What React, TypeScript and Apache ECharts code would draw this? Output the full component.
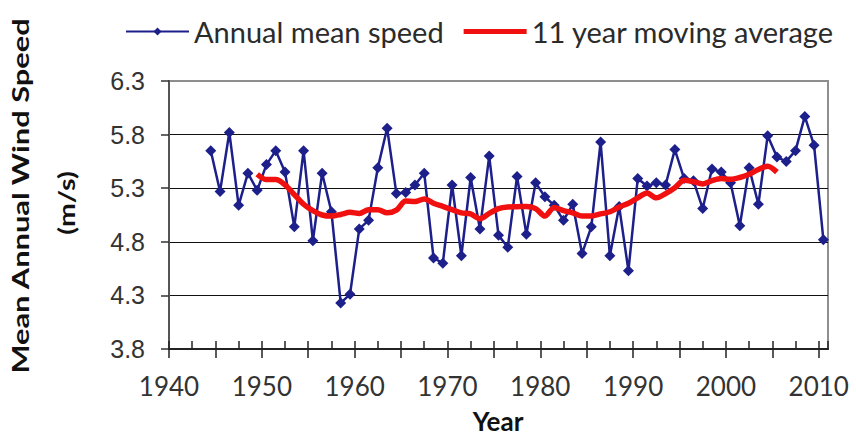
import React, { useEffect, useRef } from "react";
import * as echarts from "echarts";

// Years of the annual series
const years: number[] = [
  1944, 1945, 1946, 1947, 1948, 1949, 1950, 1951, 1952, 1953, 1954, 1955, 1956, 1957,
  1958, 1959, 1960, 1961, 1962, 1963, 1964, 1965, 1966, 1967, 1968, 1969, 1970, 1971,
  1972, 1973, 1974, 1975, 1976, 1977, 1978, 1979, 1980, 1981, 1982, 1983, 1984, 1985,
  1986, 1987, 1988, 1989, 1990, 1991, 1992, 1993, 1994, 1995, 1996, 1997, 1998, 1999,
  2000, 2001, 2002, 2003, 2004, 2005, 2006, 2007, 2008, 2009, 2010,
];

// Annual mean wind speed (m/s)
const annualSpeed: number[] = [
  5.65, 5.27, 5.82, 5.14, 5.44, 5.28, 5.52, 5.65, 5.45, 4.94, 5.65, 4.81, 5.44, 5.08,
  4.23, 4.31, 4.92, 5.0, 5.49, 5.86, 5.25, 5.26, 5.33, 5.44, 4.65, 4.6, 5.33, 4.67,
  5.4, 4.92, 5.6, 4.86, 4.75, 5.41, 4.87, 5.35, 5.22, 5.14, 5.0, 5.15, 4.69, 4.94,
  5.73, 4.67, 5.13, 4.53, 5.39, 5.32, 5.35, 5.33, 5.66, 5.39, 5.37, 5.11, 5.48, 5.45,
  5.35, 4.95, 5.49, 5.15, 5.79, 5.59, 5.55, 5.65, 5.97, 5.7, 4.82,
];

// 11 year moving average, centred years 1949..2005
const maYears: number[] = [
  1949, 1950, 1951, 1952, 1953, 1954, 1955, 1956, 1957, 1958, 1959, 1960, 1961, 1962,
  1963, 1964, 1965, 1966, 1967, 1968, 1969, 1970, 1971, 1972, 1973, 1974, 1975, 1976,
  1977, 1978, 1979, 1980, 1981, 1982, 1983, 1984, 1985, 1986, 1987, 1988, 1989, 1990,
  1991, 1992, 1993, 1994, 1995, 1996, 1997, 1998, 1999, 2000, 2001, 2002, 2003, 2004,
  2005,
];
const movingAverage: number[] = [
  5.43, 5.38, 5.38, 5.33, 5.24, 5.15, 5.09, 5.05, 5.04, 5.055, 5.075, 5.065, 5.1, 5.1,
  5.07, 5.095, 5.18, 5.175, 5.2, 5.16, 5.13, 5.1, 5.07, 5.06, 5.015, 5.065, 5.11, 5.125,
  5.127, 5.13, 5.11, 5.04, 5.12, 5.09, 5.07, 5.04, 5.04, 5.06, 5.08, 5.125, 5.16, 5.21,
  5.255, 5.21, 5.25, 5.305, 5.375, 5.36, 5.34, 5.37, 5.39, 5.383, 5.4, 5.43, 5.475, 5.505,
  5.45,
];

// Axis definitions
const yMin = 3.8;
const yMax = 6.3;
const yStep = 0.5;
const xMin = 1940;
const xMax = 2011;
const xLabelStep = 10;

const LABEL_FONT = "Lato, 'Noto Sans', sans-serif";

export default function App() {
  const ref = useRef<HTMLDivElement>(null);

  useEffect(() => {
    if (!ref.current) return;
    const chart = echarts.init(ref.current, undefined, { renderer: "svg" });

    // y values are expressed relative to the axis minimum so that ticks start at 3.8
    const annualData = years.map((y, i) => [y + 0.5, annualSpeed[i] - yMin]);
    const maData = maYears.map((y, i) => [y + 0.5, movingAverage[i] - yMin]);

    chart.setOption({
      animation: false,
      backgroundColor: "#ffffff",
      grid: {
        left: 169,
        right: 28,
        top: 81,
        bottom: 87,
        show: true,
        borderColor: "#8e8e8e",
        borderWidth: 2,
        containLabel: false,
      },
      legend: {
        left: 125,
        top: 17,
        padding: 0,
        itemWidth: 63,
        itemHeight: 10,
        itemGap: 20,
        textStyle: { fontFamily: LABEL_FONT, fontSize: 29, color: "#2b2b2b" },
        data: [
          { name: "Annual mean speed" },
          { name: "11 year moving average", icon: "path://M0,0H63V5H0Z" },
        ],
      },
      xAxis: [
        {
          type: "value",
          min: xMin,
          max: xMax,
          interval: 5,
          position: "bottom",
          axisLine: { show: true, onZero: false, lineStyle: { color: "#222", width: 2 } },
          axisTick: { show: true, inside: false, length: 9, lineStyle: { color: "#222", width: 1.5 } },
          axisLabel: {
            margin: 24,
            fontFamily: LABEL_FONT,
            fontSize: 26,
            color: "#333",
            showMaxLabel: false,
            formatter: (v: number) => (v % xLabelStep === 0 ? String(v) : ""),
          },
          splitLine: { show: false },
        },
        {
          type: "value",
          min: xMin,
          max: xMax,
          interval: 2.5,
          position: "bottom",
          axisLine: { show: false },
          axisTick: { show: true, inside: true, length: 8, lineStyle: { color: "#222", width: 1.5 } },
          axisLabel: { show: false },
          splitLine: { show: false },
        },
      ],
      yAxis: {
        type: "value",
        min: 0,
        max: yMax - yMin,
        interval: yStep,
        axisLine: { show: true, lineStyle: { color: "#555", width: 2 } },
        axisTick: { show: true, inside: false, length: 8, lineStyle: { color: "#333", width: 1.5 } },
        axisLabel: {
          margin: 24,
          fontFamily: "'Liberation Sans', Arial, sans-serif",
          fontSize: 25,
          color: "#333",
          formatter: (v: number) => (v + yMin).toFixed(1),
        },
        splitLine: {
          show: true,
          showMinLine: false,
          showMaxLine: false,
          lineStyle: { color: "#111", width: 1.2 },
        },
      },
      graphic: [
        {
          type: "text",
          x: 21,
          y: 196,
          rotation: Math.PI / 2,
          scaleX: 1.4,
          style: {
            text: "Mean Annual Wind Speed",
            fontFamily: LABEL_FONT,
            fontWeight: "bold",
            fontSize: 22,
            fill: "#111",
            textAlign: "center",
            textVerticalAlign: "middle",
          },
        },
        {
          type: "text",
          x: 66,
          y: 203,
          rotation: Math.PI / 2,
          scaleX: 1.3,
          style: {
            text: "(m/s)",
            fontFamily: LABEL_FONT,
            fontWeight: "bold",
            fontSize: 22,
            fill: "#111",
            textAlign: "center",
            textVerticalAlign: "middle",
          },
        },
        {
          type: "text",
          x: 498,
          y: 421,
          style: {
            text: "Year",
            fontFamily: LABEL_FONT,
            fontWeight: "bold",
            fontSize: 26,
            fill: "#111",
            textAlign: "center",
            textVerticalAlign: "middle",
          },
        },
      ],
      series: [
        {
          name: "Annual mean speed",
          type: "line",
          xAxisIndex: 0,
          data: annualData,
          symbol: "diamond",
          symbolSize: 11,
          lineStyle: { color: "#1d1f8a", width: 2.5 },
          itemStyle: { color: "#1d1f8a" },
          z: 2,
        },
        {
          name: "11 year moving average",
          type: "line",
          xAxisIndex: 0,
          data: maData,
          showSymbol: false,
          symbol: "none",
          smooth: 0.3,
          lineStyle: { color: "#f01010", width: 5.5 },
          itemStyle: { color: "#f01010" },
          z: 3,
        },
      ],
    });

    return () => chart.dispose();
  }, []);

  return (
    <div
      ref={ref}
      style={{ position: "fixed", left: 0, top: 0, width: 856, height: 436, background: "#fff" }}
    />
  );
}
